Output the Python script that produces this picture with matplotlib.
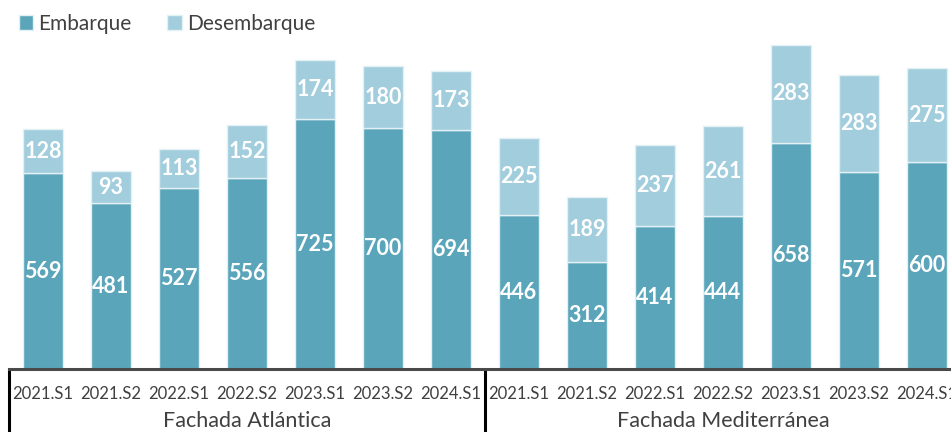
import matplotlib.pyplot as plt
import matplotlib.transforms as mtransforms
from matplotlib.patches import Patch
import numpy as np

plt.rcParams['font.family'] = ['Lato', 'DejaVu Sans']

periods = ["2021.S1", "2021.S2", "2022.S1", "2022.S2", "2023.S1", "2023.S2", "2024.S1"]
groups = ["Fachada Atlántica", "Fachada Mediterránea"]

emb_atl = [569, 481, 527, 556, 725, 700, 694]
des_atl = [128, 93, 113, 152, 174, 180, 173]
emb_med = [446, 312, 414, 444, 658, 571, 600]
des_med = [225, 189, 237, 261, 283, 283, 275]

c_emb = "#5ba5bb"
c_des = "#a2cddd"

emb = np.array(emb_atl + emb_med)
des = np.array(des_atl + des_med)
x = np.arange(len(emb))

fig = plt.figure(figsize=(9.51, 4.32), dpi=100)
# axes runs a little past the right edge, like the cropped original
ax = fig.add_axes([9 / 951, 63 / 432, 952 / 951, 369 / 432])

ax.bar(x, emb, width=0.59, color=c_emb, edgecolor="#e3f1f5", linewidth=1)
ax.bar(x, des, width=0.59, bottom=emb, color=c_des, edgecolor="#e3f1f5", linewidth=1)

for i in range(len(x)):
    ax.text(x[i], emb[i] / 2, str(emb[i]), ha="center", va="center",
            color="white", fontsize=15.5, fontweight="bold")
    ax.text(x[i], emb[i] + des[i] / 2, str(des[i]), ha="center", va="center",
            color="white", fontsize=15.5, fontweight="bold")

ax.set_xlim(-0.5, 13.5)
ax.set_ylim(0, 1072)
ax.set_yticks([])
ax.set_xticks([])
for s in ["top", "right", "left"]:
    ax.spines[s].set_visible(False)
ax.spines["bottom"].set_color("#4a4a4a")
ax.spines["bottom"].set_linewidth(2.2)

trans = mtransforms.blended_transform_factory(ax.transData, fig.transFigure)
labels = periods + periods
for i in range(len(x)):
    ax.text(x[i], 1 - 394 / 432, labels[i], transform=trans, ha="center", va="center",
            fontsize=12, color="#404040", clip_on=False)
for g, name in enumerate(groups):
    ax.text(g * 7 + 3, 1 - 421 / 432, name, transform=trans, ha="center", va="center",
            fontsize=15.5, color="#404040", clip_on=False)
for xs in [-0.5, 6.5]:
    ax.plot([xs, xs], [0, 63 / 432], transform=trans, color="black", lw=2.2,
            clip_on=False, solid_capstyle="butt")

handles = [Patch(facecolor=c_emb, edgecolor="#e3f1f5"), Patch(facecolor=c_des, edgecolor="#e3f1f5")]
fig.legend(handles, ["Embarque", "Desembarque"], loc="upper left", bbox_to_anchor=(0.0, 1.012),
           ncol=2, frameon=False, fontsize=15, handlelength=0.7, handleheight=0.7,
           handletextpad=0.25, columnspacing=1.7, labelcolor="#404040")

fig.savefig("out.png", dpi=100)
